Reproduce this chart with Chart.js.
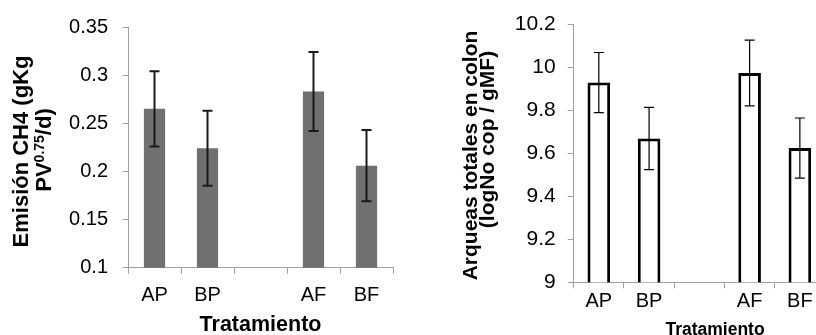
<!DOCTYPE html>
<html>
<head>
<meta charset="utf-8">
<script src="https://cdn.jsdelivr.net/npm/chart.js@4"></script>
<style>
    html, body { margin: 0; padding: 0; background: #fff; }
    body { width: 816px; height: 335px; overflow: hidden; position: relative; }
    #left { position: absolute; left: 0; top: 0; }
    #right { position: absolute; left: 408px; top: 0; }
</style>
</head>
<body>
<canvas id="left" width="408" height="335"></canvas>
<canvas id="right" width="417" height="335"></canvas>
<script>
const categories = ['AP', 'BP', '', 'AF', 'BF'];
const emisionCH4 = [0.265, 0.224, null, 0.283, 0.206];
const emisionErr = [0.039, 0.039, null, 0.041, 0.037];
const arqueas = [9.93, 9.67, null, 9.975, 9.625];
const arqueasErr = [0.14, 0.145, null, 0.153, 0.14];
const emisionTicks = ['0.1', '0.15', '0.2', '0.25', '0.3', '0.35'];
const arqueasTicks = ['9', '9.2', '9.4', '9.6', '9.8', '10', '10.2'];

const FAMILY = "'Liberation Sans', Arial, sans-serif";
const AXIS_GREY = '#a0a0a0';

// error bars drawn from the dataset's "errors" list
const errorBarPlugin = {
    id: 'errorBars',
    afterDatasetsDraw(chart) {
        const ctx = chart.ctx;
        const yScale = chart.scales.y;
        chart.data.datasets.forEach((ds, di) => {
            const meta = chart.getDatasetMeta(di);
            meta.data.forEach((bar, i) => {
                const v = ds.data[i], e = ds.errors[i];
                if (v == null || e == null) return;
                const top = yScale.getPixelForValue(v + e);
                const bot = yScale.getPixelForValue(v - e);
                ctx.save();
                ctx.strokeStyle = ds.errorColor;
                ctx.lineWidth = ds.errorWidth;
                ctx.beginPath();
                ctx.moveTo(bar.x, top); ctx.lineTo(bar.x, bot);
                ctx.moveTo(bar.x - 5, top); ctx.lineTo(bar.x + 5, top);
                ctx.moveTo(bar.x - 5, bot); ctx.lineTo(bar.x + 5, bot);
                ctx.stroke();
                ctx.restore();
            });
        });
    }
};

// axis titles (the left one needs a superscript)
const textPlugin = {
    id: 'axisText',
    afterDraw(chart, args, opts) {
        const ctx = chart.ctx;
        (opts.items || []).forEach(item => {
            ctx.save();
            ctx.translate(item.x, item.y);
            if (item.rotate) ctx.rotate(item.rotate);
            ctx.fillStyle = '#000';
            ctx.textBaseline = item.baseline || 'middle';
            ctx.textAlign = 'left';
            let total = 0;
            item.parts.forEach(p => { ctx.font = p.font; total += ctx.measureText(p.text).width; });
            let x = -total / 2;
            item.parts.forEach(p => {
                ctx.font = p.font;
                ctx.fillText(p.text, x, p.dy || 0);
                x += ctx.measureText(p.text).width;
            });
            ctx.restore();
        });
    }
};

const up = -Math.PI / 2;

new Chart(document.getElementById('left'), {
    type: 'bar',
    data: {
        labels: categories,
        datasets: [{
            data: emisionCH4,
            errors: emisionErr,
            backgroundColor: '#707073',
            categoryPercentage: 1,
            barPercentage: 0.4,
            errorColor: '#1a1a1a',
            errorWidth: 2,
        }],
    },
    options: {
        responsive: false,
        animation: false,
        devicePixelRatio: 1,
        layout: { padding: { top: 26, right: 15, left: 0, bottom: 0 } },
        plugins: {
            legend: { display: false },
            tooltip: { enabled: false },
            axisText: {
                items: [
                    { x: 22, y: 151.5, rotate: up, parts: [{ text: 'Emisión CH4 (gKg', font: 'bold 22px ' + FAMILY }] },
                    { x: 45, y: 150, rotate: up, parts: [
                        { text: 'PV', font: 'bold 22px ' + FAMILY },
                        { text: '0.75', font: 'bold 14px ' + FAMILY, dy: -5 },
                        { text: '/d)', font: 'bold 22px ' + FAMILY },
                    ] },
                    { x: 260.5, y: 330.7, baseline: 'alphabetic', parts: [{ text: 'Tratamiento', font: 'bold 21.5px ' + FAMILY }] },
                ],
            },
        },
        scales: {
            x: {
                grid: { drawOnChartArea: false, tickLength: 6, color: AXIS_GREY, offset: true },
                border: { color: AXIS_GREY },
                ticks: { color: '#000', font: { size: 20, family: FAMILY }, padding: 10 },
                afterFit: s => { s.height = 67.3; },
            },
            y: {
                min: 0.1,
                max: 0.35,
                grid: { drawOnChartArea: false, tickLength: 5, color: AXIS_GREY },
                border: { color: AXIS_GREY },
                ticks: {
                    stepSize: 0.05,
                    color: '#000',
                    font: { size: 20, family: FAMILY },
                    padding: 15,
                    callback: (v, i) => emisionTicks[i],
                },
                afterFit: s => { s.width = 128; },
            },
        },
    },
    plugins: [errorBarPlugin, textPlugin],
});

new Chart(document.getElementById('right'), {
    type: 'bar',
    data: {
        labels: categories,
        datasets: [{
            data: arqueas,
            errors: arqueasErr,
            backgroundColor: '#fff',
            borderColor: '#000',
            borderWidth: 3,
            borderSkipped: false,
            categoryPercentage: 1,
            barPercentage: 0.45,
            errorColor: '#000',
            errorWidth: 1.2,
        }],
    },
    options: {
        responsive: false,
        animation: false,
        devicePixelRatio: 1,
        layout: { padding: { top: 21, right: 0, left: 0, bottom: 0 } },
        plugins: {
            legend: { display: false },
            tooltip: { enabled: false },
            axisText: {
                items: [
                    { x: 63.5, y: 155.5, rotate: up, parts: [{ text: 'Arqueas totales en colon', font: 'bold 21px ' + FAMILY }] },
                    { x: 80.5, y: 139.5, rotate: up, parts: [{ text: '(logNo cop / gMF)', font: 'bold 21px ' + FAMILY }] },
                    { x: 307, y: 334.5, baseline: 'alphabetic', parts: [{ text: 'Tratamiento', font: 'bold 17.5px ' + FAMILY }] },
                ],
            },
        },
        scales: {
            x: {
                grid: { drawOnChartArea: false, tickLength: 6, color: AXIS_GREY, offset: true },
                border: { color: AXIS_GREY },
                ticks: { color: '#000', font: { size: 20, family: FAMILY }, padding: 1 },
                afterFit: s => { s.height = 52.7; },
            },
            y: {
                min: 9,
                max: 10.2,
                grid: { drawOnChartArea: false, tickLength: 6, color: AXIS_GREY },
                border: { color: AXIS_GREY },
                ticks: {
                    stepSize: 0.2,
                    color: '#000',
                    font: { size: 21, family: FAMILY },
                    padding: 12,
                    callback: (v, i) => arqueasTicks[i],
                },
                afterFit: s => { s.width = 165.7; },
            },
        },
    },
    plugins: [errorBarPlugin, textPlugin],
});
</script>
</body>
</html>
